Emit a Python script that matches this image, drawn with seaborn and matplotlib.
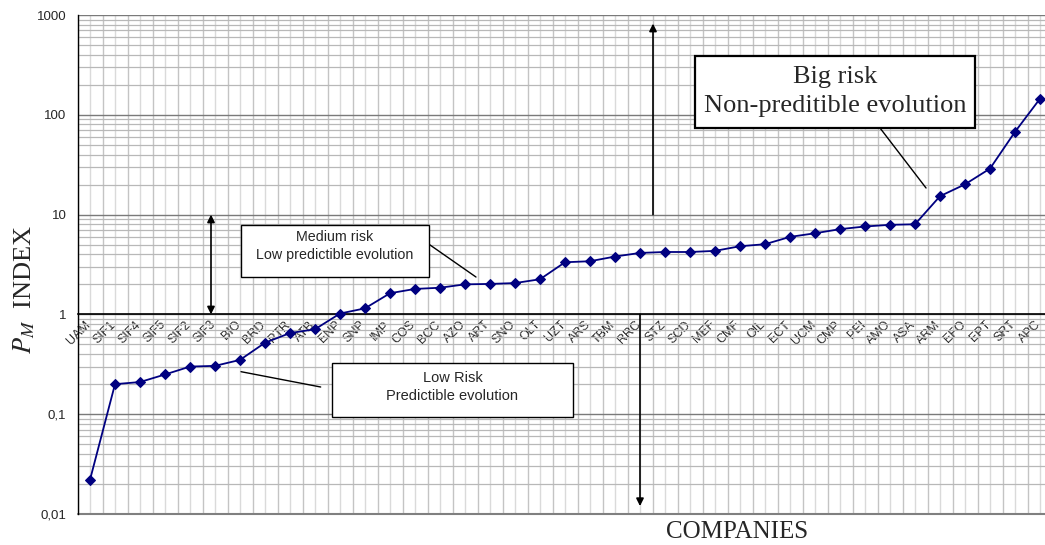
import numpy as np
import matplotlib
matplotlib.use("Agg")
import matplotlib.pyplot as plt
import matplotlib.ticker as mticker
import matplotlib.transforms as mtransforms
from matplotlib.patches import Rectangle
import seaborn as sns

companies = ["UAM", "SIF1", "SIF4", "SIF5", "SIF2", "SIF3", "BIO", "BRD", "PTR", "ATB",
             "ENP", "SNP", "IMP", "COS", "BCC", "AZO", "ART", "SNO", "OLT", "UZT",
             "ARS", "TBM", "RRC", "STZ", "SCD", "MEF", "CMF", "OIL", "ECT", "UCM",
             "CMP", "PEI", "AMO", "ASA", "ARM", "EFO", "EPT", "SRT", "APC"]
pm_index = [0.022, 0.20, 0.21, 0.25, 0.30, 0.305, 0.35, 0.52, 0.65, 0.71,
            1.02, 1.15, 1.63, 1.80, 1.85, 2.0, 2.02, 2.06, 2.25, 3.33,
            3.41, 3.8, 4.13, 4.22, 4.22, 4.33, 4.82, 5.05, 5.98, 6.5,
            7.15, 7.6, 7.9, 8.0, 15.3, 20.1, 28.9, 67.5, 145]
y_ticks = [0.01, 0.1, 1, 10, 100, 1000]
y_tick_labels = ["0,01", "0,1", "1", "10", "100", "1000"]

sns.set_style("white")
plt.rcParams["font.family"] = ["Liberation Sans", "DejaVu Sans"]
plt.rcParams["mathtext.fontset"] = "stix"

fig = plt.figure(figsize=(10.45, 5.45), dpi=100)
ax = fig.add_axes([77.5 / 1045, 31 / 545, 975 / 1045, 499 / 545])

x = np.arange(len(companies))
sns.lineplot(x=x, y=pm_index, ax=ax, color="#000080", lw=1.3, marker="D",
             markersize=5.5, markeredgecolor="#000080", zorder=5)

ax.set_yscale("log")
ax.set_ylim(0.01, 1000)
ax.set_xlim(-0.5, len(companies) - 0.5)

# y axis
ax.yaxis.set_major_locator(mticker.FixedLocator(y_ticks))
ax.yaxis.set_major_formatter(mticker.FixedFormatter(y_tick_labels))
ax.yaxis.set_minor_locator(mticker.LogLocator(base=10, subs=np.arange(2, 10)))
ax.yaxis.set_minor_formatter(mticker.NullFormatter())
ax.tick_params(axis="y", which="major", direction="out", length=5, width=1,
               labelsize=9.5, color="black", pad=3)
ax.tick_params(axis="y", which="minor", length=0)

# x axis crosses at 1, ticks at category boundaries, labels at centers
ax.spines["bottom"].set_position(("data", 1))
ax.xaxis.set_major_locator(mticker.FixedLocator(np.arange(-0.5, len(companies), 1.0)))
ax.xaxis.set_major_formatter(mticker.NullFormatter())
ax.xaxis.set_minor_locator(mticker.FixedLocator(x))
ax.xaxis.set_minor_formatter(mticker.FixedFormatter(companies))
ax.tick_params(axis="x", which="major", direction="out", length=4, width=1, color="black")
ax.tick_params(axis="x", which="minor", length=0, labelsize=9, pad=3)
offset = mtransforms.ScaledTranslation(-4 / 72, 0, fig.dpi_scale_trans)
for lab in ax.get_xticklabels(minor=True):
    lab.set_rotation(45)
    lab.set_ha("right")
    lab.set_va("top")
    lab.set_rotation_mode("anchor")
    lab.set_transform(lab.get_transform() + offset)

ax.grid(True, axis="x", which="major", color="#c4c4c4", lw=1)
ax.grid(True, axis="x", which="minor", color="#dadada", lw=1)
ax.grid(True, axis="y", which="major", color="#7a7a7a", lw=1)
ax.grid(True, axis="y", which="minor", color="#b8b8b8", lw=0.9)
ax.set_axisbelow(True)

for s in ["top", "right"]:
    ax.spines[s].set_visible(False)
ax.spines["left"].set_color("black")
ax.spines["bottom"].set_color("black")
ax.spines["left"].set_linewidth(1)
ax.spines["bottom"].set_linewidth(1.2)
ax.axhline(0.01, color="#808080", lw=1.5, clip_on=False)

ax.set_ylabel(r"$P_M$  INDEX", fontsize=19, family="Liberation Serif")
ax.yaxis.set_label_coords(-0.042, 0.45)
fig.text(737 / 1045, 1 - 532 / 545, "COMPANIES", fontsize=18, family="Liberation Serif",
         ha="center", va="center")

# arrows
arrow = dict(arrowstyle="<|-|>", color="black", lw=1.2, mutation_scale=11, shrinkA=0, shrinkB=0)
ax.annotate("", xy=(4.84, 10), xytext=(4.84, 1), arrowprops=arrow)
up = dict(arrowstyle="-|>", color="black", lw=1.2, mutation_scale=11, shrinkA=0, shrinkB=0)
ax.annotate("", xy=(22.52, 820), xytext=(22.52, 10), arrowprops=up)
ax.annotate("", xy=(22.0, 0.012), xytext=(22.0, 1), arrowprops=up)

# annotation boxes
def note_box(x0, y0, w, h, text, size, family, lw, leader, spacing, ty):
    ax.add_patch(Rectangle((x0, y0), w, h, transform=ax.transAxes, facecolor="white",
                           edgecolor="black", lw=lw, zorder=8, clip_on=False))
    ax.text(x0 + w / 2, y0 + h * ty, text, transform=ax.transAxes, ha="center", va="center",
            fontsize=size, family=family, zorder=9, linespacing=spacing)
    ax.plot([leader[0], leader[2]], [leader[1], leader[3]], transform=ax.transAxes,
            color="black", lw=1, zorder=7)

note_box(0.633, 0.7735, 0.288, 0.145, "Big risk\nNon-preditible evolution", 19,
         "Liberation Serif", 1.6, (0.8231, 0.7735, 0.8703, 0.6533), 1.4, 0.5)
note_box(0.1677, 0.4756, 0.1928, 0.1036, "Medium risk\nLow predictible evolution", 10.3,
         "Liberation Sans", 1, (0.3513, 0.5531, 0.4087, 0.4749), 1.35, 0.6)
note_box(0.261, 0.195, 0.247, 0.1076, "Low Risk\nPredictible evolution", 10.5,
         "Liberation Sans", 1, (0.1677, 0.2852, 0.2494, 0.2545), 1.35, 0.55)

fig.savefig("out.png", dpi=100)
